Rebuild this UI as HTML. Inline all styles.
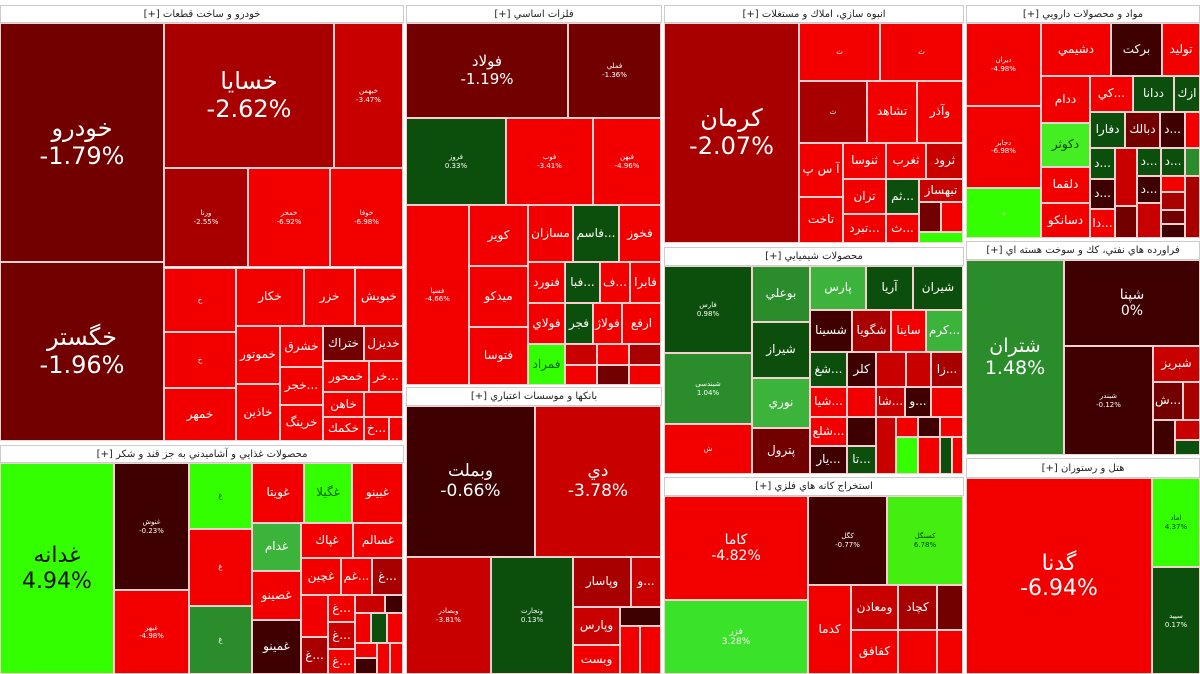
<!DOCTYPE html>
<html><head><meta charset="utf-8"><style>
*{margin:0;padding:0}
body{width:1200px;height:674px;background:#fff;position:relative;overflow:hidden;font-family:"DejaVu Sans","Liberation Sans",sans-serif}
.c{position:absolute;box-sizing:border-box;border:1px solid #f4d0d0;color:#fff;display:flex;flex-direction:column;align-items:center;justify-content:center;text-align:center;font-size:12px;line-height:1.15;overflow:hidden;white-space:nowrap}
.h{position:absolute;box-sizing:border-box;background:#fff;border:1px solid #ccc;color:#222;font-size:10px;display:flex;align-items:center;justify-content:center;direction:rtl}
.s{font-size:7px}
.b{font-size:24px}
.r{background:#f20000}.r2{background:#c80000}.r3{background:#a80000}.d{background:#720000}.dd{background:#3e0000}
.g{background:#0c4f0c}.g2{background:#2a8c2a}.g3{background:#3cb43c}.lg{background:#33ff00}
.sep{position:absolute;background:#ddd}
</style></head><body>
<!-- headers -->
<div class="h" style="left:0;top:5px;width:404px;height:18px">خودرو و ساخت قطعات [+]</div>
<div class="h" style="left:406px;top:5px;width:256px;height:18px">فلزات اساسي [+]</div>
<div class="h" style="left:664px;top:5px;width:300px;height:18px">انبوه سازي، املاك و مستغلات [+]</div>
<div class="h" style="left:966px;top:5px;width:234px;height:18px">مواد و محصولات دارويي [+]</div>
<div class="h" style="left:0;top:445px;width:404px;height:18px">محصولات غذايي و آشاميدني به جز قند و شكر [+]</div>
<div class="h" style="left:406px;top:387px;width:256px;height:19px">بانکها و موسسات اعتباري [+]</div>
<div class="h" style="left:664px;top:247px;width:300px;height:19px">محصولات شيميايي [+]</div>
<div class="h" style="left:966px;top:241px;width:234px;height:19px">فراورده هاي نفتي، كك و سوخت هسته اي [+]</div>
<div class="h" style="left:664px;top:477px;width:300px;height:19px">استخراج كانه هاي فلزي [+]</div>
<div class="h" style="left:966px;top:458px;width:234px;height:20px">هتل و رستوران [+]</div>

<!-- خودرو -->
<div class="c d b" style="left:0;top:23px;width:164px;height:239px">خودرو<br>-1.79%</div>
<div class="c d b" style="left:0;top:262px;width:164px;height:179px">خگستر<br>-1.96%</div>
<div class="c r3 b" style="left:164px;top:23px;width:170px;height:145px">خسايا<br>-2.62%</div>
<div class="c r2 s" style="left:334px;top:23px;width:69px;height:145px">خبهمن<br>-3.47%</div>
<div class="c r3 s" style="left:164px;top:168px;width:84px;height:99px">ورنا<br>-2.55%</div>
<div class="c r s" style="left:248px;top:168px;width:82px;height:99px">خمحر<br>-6.92%</div>
<div class="c r s" style="left:330px;top:168px;width:73px;height:99px">خوفا<br>-6.98%</div>
<div class="c r s" style="left:164px;top:268px;width:72px;height:64px">خ</div>
<div class="c r s" style="left:164px;top:332px;width:72px;height:56px">خ</div>
<div class="c r" style="left:164px;top:388px;width:72px;height:53px">خمهر</div>
<div class="c r" style="left:236px;top:268px;width:68px;height:58px">خكار</div>
<div class="c r" style="left:304px;top:268px;width:51px;height:58px">خزر</div>
<div class="c r" style="left:355px;top:268px;width:48px;height:58px">خبويش</div>
<div class="c r" style="left:236px;top:326px;width:44px;height:58px">خموتور</div>
<div class="c r" style="left:236px;top:384px;width:44px;height:57px">خاذين</div>
<div class="c r" style="left:280px;top:326px;width:43px;height:41px">خشرق</div>
<div class="c r" style="left:280px;top:367px;width:43px;height:38px">خجر...</div>
<div class="c r" style="left:280px;top:405px;width:43px;height:36px">خرينگ</div>
<div class="c d" style="left:323px;top:326px;width:41px;height:35px">ختراك</div>
<div class="c r2" style="left:364px;top:326px;width:39px;height:35px">خديزل</div>
<div class="c r" style="left:323px;top:361px;width:46px;height:31px">خمحور</div>
<div class="c r" style="left:369px;top:361px;width:34px;height:31px">خر...</div>
<div class="c r" style="left:323px;top:392px;width:41px;height:25px">خاهن</div>
<div class="c r" style="left:364px;top:392px;width:39px;height:25px"></div>
<div class="c r" style="left:323px;top:417px;width:41px;height:24px">خكمك</div>
<div class="c r" style="left:364px;top:417px;width:25px;height:24px">خ...</div>
<div class="c r" style="left:389px;top:417px;width:14px;height:24px"></div>

<!-- فلزات -->
<div class="c d" style="left:406px;top:23px;width:162px;height:95px;font-size:15px">فولاد<br>-1.19%</div>
<div class="c d s" style="left:568px;top:23px;width:93px;height:95px">فملي<br>-1.36%</div>
<div class="c g s" style="left:406px;top:118px;width:100px;height:87px">فروز<br>0.33%</div>
<div class="c r s" style="left:506px;top:118px;width:87px;height:87px">فوب<br>-3.41%</div>
<div class="c r s" style="left:593px;top:118px;width:68px;height:87px">فبهن<br>-4.96%</div>
<div class="c r s" style="left:406px;top:205px;width:63px;height:180px">فسپا<br>-4.66%</div>
<div class="c r" style="left:469px;top:205px;width:59px;height:61px">كوير</div>
<div class="c r" style="left:469px;top:266px;width:59px;height:61px">ميدكو</div>
<div class="c r" style="left:469px;top:327px;width:59px;height:58px">فتوسا</div>
<div class="c r" style="left:528px;top:205px;width:45px;height:57px">مسازان</div>
<div class="c g" style="left:573px;top:205px;width:46px;height:57px">فاسم...</div>
<div class="c r" style="left:619px;top:205px;width:42px;height:57px">فخوز</div>
<div class="c r" style="left:528px;top:262px;width:37px;height:41px">فنورد</div>
<div class="c g" style="left:565px;top:262px;width:35px;height:41px">فبا...</div>
<div class="c r" style="left:600px;top:262px;width:30px;height:41px">ف...</div>
<div class="c r" style="left:630px;top:262px;width:31px;height:41px">فابرا</div>
<div class="c r" style="left:528px;top:303px;width:37px;height:41px">فولاي</div>
<div class="c g" style="left:565px;top:303px;width:28px;height:41px">فجر</div>
<div class="c r" style="left:593px;top:303px;width:29px;height:41px">فولاژ</div>
<div class="c r" style="left:622px;top:303px;width:39px;height:41px">ارفع</div>
<div class="c lg" style="left:528px;top:344px;width:37px;height:41px;color:#060">فمراد</div>
<div class="c r2" style="left:565px;top:344px;width:32px;height:21px"></div>
<div class="c r" style="left:597px;top:344px;width:32px;height:21px"></div>
<div class="c r3" style="left:629px;top:344px;width:32px;height:21px"></div>
<div class="c r" style="left:565px;top:365px;width:32px;height:20px"></div>
<div class="c d" style="left:597px;top:365px;width:32px;height:20px"></div>
<div class="c r" style="left:629px;top:365px;width:32px;height:20px"></div>

<!-- انبوه -->
<div class="c r3 b" style="left:664px;top:23px;width:135px;height:220px">كرمان<br>-2.07%</div>
<div class="c r s" style="left:799px;top:23px;width:81px;height:58px">ث</div>
<div class="c r s" style="left:880px;top:23px;width:83px;height:58px">ث</div>
<div class="c r3 s" style="left:799px;top:81px;width:68px;height:62px">ث</div>
<div class="c r" style="left:867px;top:81px;width:50px;height:62px">تشاهد</div>
<div class="c r" style="left:917px;top:81px;width:46px;height:62px">وآذر</div>
<div class="c r" style="left:799px;top:143px;width:44px;height:54px">آ س پ</div>
<div class="c r" style="left:799px;top:197px;width:44px;height:46px">تاخت</div>
<div class="c r" style="left:843px;top:143px;width:43px;height:36px">ثنوسا</div>
<div class="c r" style="left:886px;top:143px;width:40px;height:36px">ثغرب</div>
<div class="c r2" style="left:926px;top:143px;width:37px;height:36px">ثرود</div>
<div class="c r" style="left:843px;top:179px;width:43px;height:35px">تران</div>
<div class="c g" style="left:886px;top:179px;width:33px;height:35px">ثم...</div>
<div class="c r2" style="left:919px;top:179px;width:44px;height:23px">تبهساز</div>
<div class="c r" style="left:843px;top:214px;width:43px;height:29px">تبرد...</div>
<div class="c r" style="left:886px;top:214px;width:33px;height:29px">ث...</div>
<div class="c d" style="left:919px;top:202px;width:22px;height:30px"></div>
<div class="c r" style="left:941px;top:202px;width:22px;height:30px"></div>
<div class="c lg" style="left:919px;top:232px;width:44px;height:11px"></div>

<!-- دارویی -->
<div class="c r s" style="left:966px;top:23px;width:75px;height:83px">ديران<br>-4.98%</div>
<div class="c r s" style="left:966px;top:106px;width:75px;height:82px">دجابر<br>-6.98%</div>
<div class="c lg s" style="left:966px;top:188px;width:75px;height:50px">د</div>
<div class="c r" style="left:1041px;top:23px;width:70px;height:53px">دشيمي</div>
<div class="c dd" style="left:1111px;top:23px;width:51px;height:53px">بركت</div>
<div class="c r" style="left:1162px;top:23px;width:38px;height:53px">تولید</div>
<div class="c r" style="left:1041px;top:76px;width:49px;height:47px">ددام</div>
<div class="c r" style="left:1090px;top:76px;width:43px;height:36px">كي...</div>
<div class="c g" style="left:1133px;top:76px;width:41px;height:36px">ددانا</div>
<div class="c g" style="left:1174px;top:76px;width:26px;height:36px">ازك</div>
<div class="c lg" style="left:1041px;top:123px;width:49px;height:44px;color:#040;background:#44ee22">دكوثر</div>
<div class="c r" style="left:1041px;top:167px;width:49px;height:36px">دلقما</div>
<div class="c r" style="left:1041px;top:203px;width:49px;height:35px">دسانكو</div>
<div class="c g" style="left:1090px;top:112px;width:35px;height:36px">دفارا</div>
<div class="c d" style="left:1125px;top:112px;width:35px;height:36px">دبالك</div>
<div class="c dd" style="left:1160px;top:112px;width:25px;height:36px">د...</div>
<div class="c r" style="left:1185px;top:112px;width:15px;height:36px"></div>
<div class="c g" style="left:1090px;top:148px;width:25px;height:31px">د...</div>
<div class="c r2" style="left:1115px;top:148px;width:22px;height:58px"></div>
<div class="c g" style="left:1137px;top:148px;width:24px;height:28px">د...</div>
<div class="c g" style="left:1161px;top:148px;width:24px;height:28px">د...</div>
<div class="c g2" style="left:1185px;top:148px;width:15px;height:28px"></div>
<div class="c dd" style="left:1090px;top:179px;width:25px;height:30px">د...</div>
<div class="c r" style="left:1090px;top:209px;width:25px;height:29px">دا...</div>
<div class="c d" style="left:1115px;top:206px;width:22px;height:32px"></div>
<div class="c dd" style="left:1137px;top:176px;width:24px;height:27px">د...</div>
<div class="c r" style="left:1161px;top:176px;width:24px;height:16px"></div>
<div class="c r2" style="left:1137px;top:203px;width:24px;height:35px"></div>
<div class="c r3" style="left:1161px;top:192px;width:24px;height:18px"></div>
<div class="c d" style="left:1161px;top:210px;width:24px;height:14px"></div>
<div class="c dd" style="left:1161px;top:224px;width:24px;height:14px"></div>
<div class="c r3" style="left:1185px;top:176px;width:15px;height:62px"></div>

<!-- شیمیایی -->
<div class="c g s" style="left:664px;top:266px;width:88px;height:87px">فارس<br>0.98%</div>
<div class="c g2 s" style="left:664px;top:353px;width:88px;height:71px">شبندسی<br>1.04%</div>
<div class="c r s" style="left:664px;top:424px;width:88px;height:50px">ش</div>
<div class="c g2" style="left:752px;top:266px;width:58px;height:56px">بوعلي</div>
<div class="c g" style="left:752px;top:322px;width:58px;height:56px">شيراز</div>
<div class="c g3" style="left:752px;top:378px;width:58px;height:50px">نوري</div>
<div class="c d" style="left:752px;top:428px;width:58px;height:46px">پترول</div>
<div class="c g3" style="left:810px;top:266px;width:56px;height:44px">پارس</div>
<div class="c g" style="left:866px;top:266px;width:47px;height:44px">آريا</div>
<div class="c g" style="left:913px;top:266px;width:50px;height:44px">شيران</div>
<div class="c dd" style="left:810px;top:310px;width:42px;height:42px">شسينا</div>
<div class="c r3" style="left:852px;top:310px;width:39px;height:42px">شگويا</div>
<div class="c r" style="left:891px;top:310px;width:35px;height:42px">ساينا</div>
<div class="c g3" style="left:926px;top:310px;width:37px;height:42px">كرم...</div>
<div class="c g" style="left:810px;top:352px;width:37px;height:35px">شغ...</div>
<div class="c dd" style="left:847px;top:352px;width:29px;height:35px">كلر</div>
<div class="c r2" style="left:876px;top:352px;width:30px;height:35px"></div>
<div class="c r2" style="left:906px;top:352px;width:25px;height:35px"></div>
<div class="c r3" style="left:931px;top:352px;width:32px;height:35px">زا...</div>
<div class="c r" style="left:810px;top:387px;width:37px;height:30px">شيا...</div>
<div class="c r" style="left:847px;top:387px;width:29px;height:30px"></div>
<div class="c r2" style="left:876px;top:387px;width:29px;height:30px">شا...</div>
<div class="c dd" style="left:905px;top:387px;width:26px;height:30px">و...</div>
<div class="c r" style="left:931px;top:387px;width:32px;height:30px"></div>
<div class="c r" style="left:810px;top:417px;width:37px;height:29px">شلع...</div>
<div class="c dd" style="left:847px;top:417px;width:29px;height:29px"></div>
<div class="c r2" style="left:876px;top:417px;width:20px;height:57px"></div>
<div class="c r" style="left:896px;top:417px;width:22px;height:20px"></div>
<div class="c dd" style="left:918px;top:417px;width:22px;height:20px"></div>
<div class="c r" style="left:940px;top:417px;width:23px;height:20px"></div>
<div class="c dd" style="left:810px;top:446px;width:37px;height:28px">يار...</div>
<div class="c g" style="left:847px;top:446px;width:29px;height:28px">تا...</div>
<div class="c lg" style="left:896px;top:437px;width:22px;height:37px"></div>
<div class="c r" style="left:918px;top:437px;width:22px;height:37px"></div>
<div class="c g" style="left:940px;top:437px;width:12px;height:37px"></div>
<div class="c r" style="left:952px;top:437px;width:11px;height:37px"></div>

<!-- نفتی -->
<div class="c g2" style="left:966px;top:260px;width:98px;height:195px;font-size:19px">شتران<br>1.48%</div>
<div class="c dd" style="left:1064px;top:260px;width:136px;height:86px;font-size:14px">شپنا<br>0%</div>
<div class="c dd s" style="left:1064px;top:346px;width:89px;height:109px">شبندر<br>-0.12%</div>
<div class="c r2" style="left:1153px;top:346px;width:47px;height:36px">شبريز</div>
<div class="c d" style="left:1153px;top:382px;width:30px;height:38px">ش...</div>
<div class="c r3" style="left:1183px;top:382px;width:17px;height:38px"></div>
<div class="c dd" style="left:1153px;top:420px;width:22px;height:35px"></div>
<div class="c r2" style="left:1175px;top:420px;width:25px;height:20px"></div>
<div class="c g" style="left:1175px;top:440px;width:25px;height:15px"></div>

<!-- غذایی -->
<div class="c lg" style="left:0;top:463px;width:114px;height:211px;font-size:22px;color:#111">غدانه<br>4.94%</div>
<div class="c dd s" style="left:114px;top:463px;width:75px;height:127px">غنوش<br>-0.23%</div>
<div class="c r s" style="left:114px;top:590px;width:75px;height:84px">غبهر<br>-4.98%</div>
<div class="c lg s" style="left:189px;top:463px;width:63px;height:66px;color:#060">غ</div>
<div class="c r s" style="left:189px;top:529px;width:63px;height:77px">غ</div>
<div class="c g2 s" style="left:189px;top:606px;width:63px;height:68px">غ</div>
<div class="c r" style="left:252px;top:463px;width:52px;height:60px">غويتا</div>
<div class="c lg" style="left:304px;top:463px;width:48px;height:60px;color:#060">غگيلا</div>
<div class="c r" style="left:352px;top:463px;width:51px;height:60px">غبينو</div>
<div class="c g3" style="left:252px;top:523px;width:49px;height:48px">غدام</div>
<div class="c r" style="left:252px;top:571px;width:49px;height:49px">غصينو</div>
<div class="c dd" style="left:252px;top:620px;width:49px;height:54px">غمينو</div>
<div class="c r" style="left:301px;top:523px;width:52px;height:35px">غپاك</div>
<div class="c r" style="left:353px;top:523px;width:50px;height:35px">غسالم</div>
<div class="c r" style="left:301px;top:558px;width:40px;height:37px">غچين</div>
<div class="c r" style="left:341px;top:558px;width:31px;height:37px">غم...</div>
<div class="c r3" style="left:372px;top:558px;width:31px;height:37px">غ...</div>
<div class="c r" style="left:301px;top:595px;width:27px;height:42px"></div>
<div class="c r3" style="left:301px;top:637px;width:27px;height:37px">غ...</div>
<div class="c r" style="left:328px;top:595px;width:27px;height:27px">غ...</div>
<div class="c r2" style="left:328px;top:622px;width:27px;height:27px">غ...</div>
<div class="c r" style="left:328px;top:649px;width:27px;height:25px">غ...</div>
<div class="c r2" style="left:355px;top:595px;width:30px;height:18px"></div>
<div class="c dd" style="left:385px;top:595px;width:18px;height:18px"></div>
<div class="c r" style="left:355px;top:613px;width:16px;height:30px"></div>
<div class="c g" style="left:371px;top:613px;width:16px;height:30px"></div>
<div class="c r" style="left:387px;top:613px;width:16px;height:30px"></div>
<div class="c r" style="left:355px;top:643px;width:22px;height:15px"></div>
<div class="c dd" style="left:355px;top:658px;width:22px;height:16px"></div>
<div class="c r" style="left:377px;top:643px;width:13px;height:31px"></div>
<div class="c r" style="left:390px;top:643px;width:13px;height:31px"></div>

<!-- بانکها -->
<div class="c dd" style="left:406px;top:406px;width:129px;height:151px;font-size:17px">وبملت<br>-0.66%</div>
<div class="c r2" style="left:535px;top:406px;width:126px;height:151px;font-size:17px">دي<br>-3.78%</div>
<div class="c r2 s" style="left:406px;top:557px;width:85px;height:117px">وبصادر<br>-3.81%</div>
<div class="c g s" style="left:491px;top:557px;width:82px;height:117px">وتجارت<br>0.13%</div>
<div class="c r3" style="left:573px;top:557px;width:58px;height:50px">وپاسار</div>
<div class="c r2" style="left:631px;top:557px;width:30px;height:50px">و...</div>
<div class="c r2" style="left:573px;top:607px;width:47px;height:38px">وپارس</div>
<div class="c r" style="left:573px;top:645px;width:47px;height:29px">وبست</div>
<div class="c dd" style="left:620px;top:607px;width:41px;height:19px"></div>
<div class="c r" style="left:620px;top:626px;width:20px;height:48px"></div>
<div class="c r" style="left:640px;top:626px;width:21px;height:48px"></div>

<!-- استخراج -->
<div class="c r" style="left:664px;top:496px;width:144px;height:104px;font-size:14px">كاما<br>-4.82%</div>
<div class="c lg" style="left:664px;top:600px;width:144px;height:74px;background:#3ae22a;font-size:9px">فزر<br>3.28%</div>
<div class="c dd s" style="left:808px;top:496px;width:79px;height:89px">كگل<br>-0.77%</div>
<div class="c lg s" style="left:887px;top:496px;width:76px;height:89px;color:#040;background:#44ee11">كسنگل<br>6.78%</div>
<div class="c r" style="left:808px;top:585px;width:43px;height:89px">كدما</div>
<div class="c r2" style="left:851px;top:585px;width:47px;height:45px">ومعادن</div>
<div class="c r" style="left:851px;top:630px;width:47px;height:44px">كفافق</div>
<div class="c r3" style="left:898px;top:585px;width:39px;height:45px">كچاد</div>
<div class="c r" style="left:898px;top:630px;width:39px;height:44px"></div>
<div class="c d" style="left:937px;top:585px;width:26px;height:45px"></div>
<div class="c r" style="left:937px;top:630px;width:26px;height:44px"></div>

<!-- هتل -->
<div class="c r" style="left:966px;top:478px;width:186px;height:196px;font-size:22px">گدنا<br>-6.94%</div>
<div class="c lg s" style="left:1152px;top:478px;width:48px;height:89px;color:#040">اماد<br>4.37%</div>
<div class="c g s" style="left:1152px;top:567px;width:48px;height:107px">سپيد<br>0.17%</div>
</body></html>
